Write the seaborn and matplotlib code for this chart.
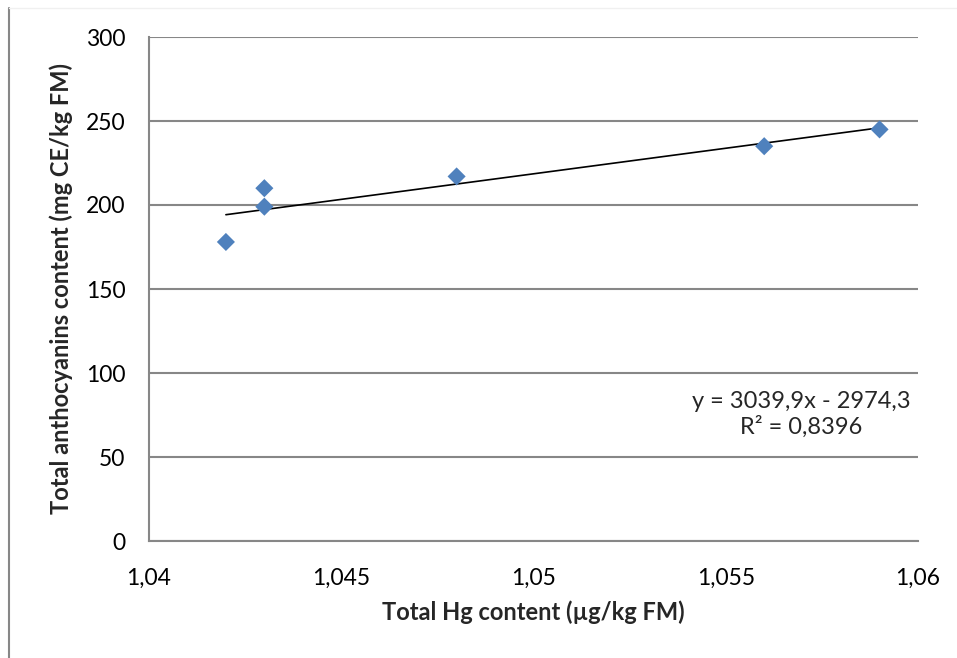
import matplotlib
matplotlib.use("Agg")
import matplotlib.pyplot as plt
import seaborn as sns
import pandas as pd
from matplotlib.lines import Line2D
from matplotlib.ticker import FuncFormatter, MultipleLocator

# --------------------------------------------------------
# Data
# --------------------------------------------------------

hg_content = [1.042, 1.043, 1.043, 1.048, 1.056, 1.059]
anthocyanins = [178, 199, 210, 217, 235, 245]

equation_text = "y = 3039,9x - 2974,3\nR² = 0,8396"

x_label = "Total Hg content (µg/kg FM)"
y_label = "Total anthocyanins content (mg CE/kg FM)"

# --------------------------------------------------------
# Style
# --------------------------------------------------------

sns.set_theme(style="white")
plt.rcParams["font.family"] = ["Lato", "DejaVu Sans"]

GRID_GRAY = "#878787"
MARKER_BLUE = "#4F81BD"

df = pd.DataFrame({"hg": hg_content, "anth": anthocyanins})

fig = plt.figure(figsize=(9.57, 6.58), dpi=100)
ax = fig.add_axes([149 / 957, 117 / 658, (918 - 149) / 957, (541 - 37) / 658])

# trendline (linear fit) and points
sns.regplot(
    data=df,
    x="hg",
    y="anth",
    ci=None,
    scatter=False,
    color="black",
    line_kws={"linewidth": 1.2, "zorder": 3},
    ax=ax
)

sns.scatterplot(
    data=df,
    x="hg",
    y="anth",
    marker="D",
    s=85,
    color=MARKER_BLUE,
    edgecolor="none",
    linewidth=0,
    zorder=4,
    ax=ax
)

ax.set_xlim(1.04, 1.06)
ax.set_ylim(0, 300)
ax.xaxis.set_major_locator(MultipleLocator(0.005))
ax.yaxis.set_major_locator(MultipleLocator(50))

def comma_fmt(v, pos):
    s = f"{v:.3f}".rstrip("0").rstrip(".")
    return s.replace(".", ",")

ax.xaxis.set_major_formatter(FuncFormatter(comma_fmt))
ax.yaxis.set_major_formatter(FuncFormatter(lambda v, p: f"{v:.0f}"))

ax.grid(axis="y", color=GRID_GRAY, linewidth=1.5)
ax.grid(axis="x", visible=False)
ax.set_axisbelow(True)

for side in ["top", "right"]:
    ax.spines[side].set_visible(False)
for side in ["left", "bottom"]:
    ax.spines[side].set_color(GRID_GRAY)
    ax.spines[side].set_linewidth(1.5)

ax.tick_params(axis="both", length=0, labelsize=16.5, colors="black")
ax.tick_params(axis="x", pad=19)
ax.tick_params(axis="y", pad=17)

ax.set_xlabel(x_label, fontsize=17, fontweight="bold", labelpad=9)
ax.set_ylabel(y_label, fontsize=17, fontweight="bold", labelpad=9)

ax.text(
    801 / 957, (658 - 414) / 658,
    equation_text,
    transform=fig.transFigure,
    ha="center",
    va="center",
    fontsize=17,
    linespacing=1.2
)

# chart border fragments
fig.add_artist(Line2D([9 / 957, 9 / 957], [0, 1 - 8 / 658], color=GRID_GRAY, linewidth=1.5))
fig.add_artist(Line2D([9 / 957, 1], [1 - 8 / 658, 1 - 8 / 658], color="#f0f0f0", linewidth=1))

fig.savefig("out.png", dpi=100)
plt.close(fig)
